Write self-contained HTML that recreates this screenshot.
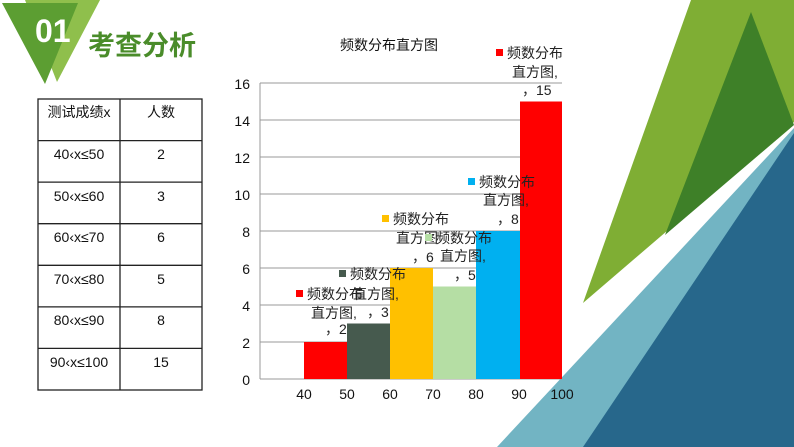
<!DOCTYPE html>
<html><head><meta charset="utf-8"><style>
body{margin:0;width:794px;height:447px;overflow:hidden;background:#fff;font-family:"Liberation Sans","Noto Sans CJK SC",sans-serif}
svg{position:absolute;left:0;top:0}
</style></head><body>
<svg width="794" height="447" viewBox="0 0 794 447">
<polygon points="691,0 794,0 794,122 583,303" fill="#7fae34"/>
<polygon points="751,12 794,125 665,235" fill="#3e8028"/>
<polygon points="497,447 794,128 794,447" fill="#72b4c3"/>
<polygon points="583,447 794,133 794,447" fill="#27678b"/>
<polygon points="25,0 100,0 57,82" fill="#8fbf4c"/>
<polygon points="2,3 78,3 45,84" fill="#5c9e32"/>
<text x="35" y="42" font-size="32" font-weight="bold" fill="#fff" font-family="Liberation Sans Narrow,Liberation Sans,sans-serif">01</text>
<text x="88" y="55" font-size="27" font-weight="bold" fill="#4a8c2a" font-family="Noto Sans CJK SC,sans-serif">考查分析</text>
<g stroke="#222" stroke-width="1.3" fill="none">
<rect x="38" y="99" width="164" height="291"/>
<line x1="120" y1="99" x2="120" y2="390"/>
<line x1="38" y1="140.6" x2="202" y2="140.6"/><line x1="38" y1="182.1" x2="202" y2="182.1"/>
<line x1="38" y1="223.7" x2="202" y2="223.7"/><line x1="38" y1="265.3" x2="202" y2="265.3"/>
<line x1="38" y1="306.9" x2="202" y2="306.9"/><line x1="38" y1="348.4" x2="202" y2="348.4"/>
</g>
<g font-size="14" fill="#111" text-anchor="middle">
<text x="79" y="117">测试成绩x</text><text x="161" y="117">人数</text>
<text x="79" y="159">40‹x≤50</text><text x="161" y="159">2</text>
<text x="79" y="201">50‹x≤60</text><text x="161" y="201">3</text>
<text x="79" y="242">60‹x≤70</text><text x="161" y="242">6</text>
<text x="79" y="284">70‹x≤80</text><text x="161" y="284">5</text>
<text x="79" y="325">80‹x≤90</text><text x="161" y="325">8</text>
<text x="79" y="367">90‹x≤100</text><text x="161" y="367">15</text>
</g>
<text x="389" y="50" font-size="14" text-anchor="middle" fill="#111">频数分布直方图</text>
<g stroke="#999" stroke-width="1">
<line x1="260" y1="83" x2="562" y2="83"/><line x1="260" y1="120" x2="562" y2="120"/>
<line x1="260" y1="157" x2="562" y2="157"/><line x1="260" y1="194" x2="562" y2="194"/>
<line x1="260" y1="231" x2="562" y2="231"/><line x1="260" y1="268" x2="562" y2="268"/>
<line x1="260" y1="305" x2="562" y2="305"/><line x1="260" y1="342" x2="562" y2="342"/>
<line x1="260" y1="379" x2="562" y2="379"/><line x1="260" y1="83" x2="260" y2="379"/>
</g>
<g font-size="14" fill="#111" text-anchor="end">
<text x="250" y="89">16</text><text x="250" y="126">14</text><text x="250" y="163">12</text>
<text x="250" y="200">10</text><text x="250" y="237">8</text><text x="250" y="274">6</text>
<text x="250" y="311">4</text><text x="250" y="348">2</text><text x="250" y="385">0</text>
</g>
<rect x="304" y="342" width="43" height="37" fill="#ff0000"/>
<rect x="347" y="323.5" width="43" height="55.5" fill="#465a4e"/>
<rect x="390" y="268" width="43" height="111" fill="#ffc000"/>
<rect x="433" y="286.5" width="43" height="92.5" fill="#b5dea4"/>
<rect x="476" y="231" width="44" height="148" fill="#00b0f0"/>
<rect x="520" y="101.5" width="42" height="277.5" fill="#ff0000"/>
<g font-size="14" fill="#111" text-anchor="middle">
<text x="304" y="399">40</text><text x="347" y="399">50</text><text x="390" y="399">60</text>
<text x="433" y="399">70</text><text x="476" y="399">80</text><text x="519" y="399">90</text><text x="562" y="399">100</text>
</g>
<g font-size="14" fill="#222">
<rect x="296" y="290" width="7" height="7" fill="#f00"/><text x="307" y="299">频数分布</text>
<text x="311" y="318">直方图,</text><text x="325" y="334">，2</text>
<rect x="339" y="270" width="7" height="7" fill="#465a4e"/><text x="350" y="279">频数分布</text>
<text x="353" y="299">直方图,</text><text x="367" y="317">，3</text>
<rect x="382" y="215" width="7" height="7" fill="#ffc000"/><text x="393" y="224">频数分布</text>
<text x="396" y="243">直方图</text><text x="412" y="262">，6</text>
<rect x="425" y="234" width="7" height="7" fill="#b5dea4"/><text x="436" y="243">频数分布</text>
<text x="440" y="261">直方图,</text><text x="454" y="280">，5</text>
<rect x="468" y="178" width="7" height="7" fill="#00b0f0"/><text x="479" y="187">频数分布</text>
<text x="483" y="205">直方图,</text><text x="497" y="224">，8</text>
<rect x="496" y="49" width="7" height="7" fill="#f00"/><text x="507" y="58">频数分布</text>
<text x="512" y="77">直方图,</text><text x="522" y="95">，15</text>
</g>
</svg>
</body></html>
